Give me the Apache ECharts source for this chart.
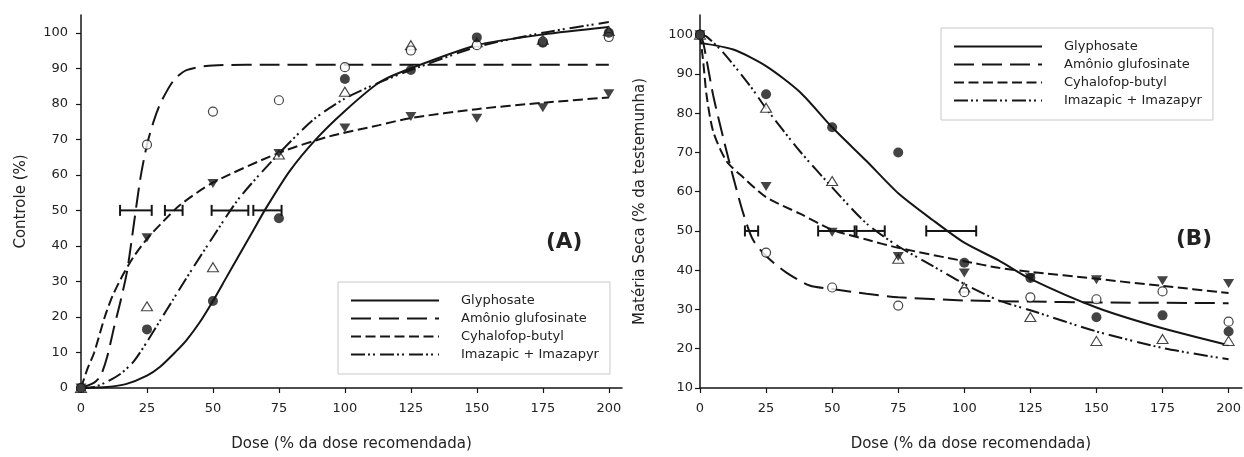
<!DOCTYPE html>
<html>
<head>
<meta charset="utf-8">
<script src="https://cdn.jsdelivr.net/npm/echarts@6/dist/echarts.min.js"></script>
<style>
  html, body { margin: 0; padding: 0; background: #fff; }
  #chart { width: 1244px; height: 457px; }
</style>
</head>
<body>
<div id="chart"></div>
<script>
// treatment doses (% of recommended dose)
const doseTrt = [0, 25, 50, 75, 100, 125, 150, 175, 200];
const herbicides = ['Glyphosate', 'Amônio glufosinate', 'Cyhalofop-butyl', 'Imazapic + Imazapyr'];

// (A) Controle (%) - observed
const glyA = [0, 16.5, 24.5, 47.8, 87, 89.5, 98.7, 97.2, 100];
const amoA = [0, 68.5, 77.8, 81, 90.3, 95, 96.5, 97.5, 98.8];
const cyhA = [0, 42.3, 57.6, 66, 73.2, 76.4, 75.9, 78.9, 82.8];
const imaA = [0, 23, 34, 65.7, 83.4, 96.5, 97.3, 98, 100.5];

// (A) fitted curves
const glyFitDoseA = [0, 10, 17, 25, 30, 36, 40, 45, 50, 55, 60, 65, 70, 79, 89, 100, 113, 125, 150, 175, 200];
const glyFitA     = [0, 0.3, 1.1, 3.5, 6, 10.3, 13.5, 18.5, 24.5, 31, 37.5, 44, 50.5, 61, 70, 78, 86, 90, 96.5, 99.5, 101.6];
const amoFitDoseA = [0, 5, 7.5, 10, 12.5, 15, 17.5, 20, 22.5, 25, 27.5, 30, 35, 40, 50, 75, 100, 150, 200];
const amoFitA     = [0, 1.5, 3.5, 9, 17, 24.5, 33, 46, 59, 68.5, 75, 80, 86.5, 89.5, 90.8, 91, 91, 91, 91];
const cyhFitDoseA = [0, 2.5, 5, 9, 12, 16, 20, 25, 30, 37.5, 50, 75, 94, 113, 125, 150, 175, 200];
const cyhFitA     = [0, 5.5, 10, 20, 26, 32, 37, 42, 46, 51.5, 57.8, 66.2, 70.8, 74, 76, 78.5, 80.3, 81.8];
const imaFitDoseA = [0, 5, 10, 15, 20, 25, 30, 35, 40, 50, 60, 75, 88, 100, 113, 125, 150, 175, 200];
const imaFitA     = [0, 0.3, 1.8, 4, 7.5, 13, 19, 25, 31, 42.5, 53.5, 66, 75.5, 81.5, 86, 89.5, 96, 100, 103];

// (A) ED50 error bars at y = 50
const errLowA  = [65.3, 14.8, 31.8, 49.5];
const errHighA = [76, 26.8, 38.5, 63.4];

// (B) Matéria seca (% da testemunha) - observed
const glyB = [100, 84.8, 76.4, 70, 41.9, 38, 28, 28.5, 24.4];
const amoB = [100, 44.5, 35.6, 31, 34.4, 33.1, 32.6, 34.6, 26.9];
const cyhB = [100, 61.3, 49.7, 43.5, 39.3, 38.1, 37.6, 37.3, 36.6];
const imaB = [100, 81.4, 62.7, 42.9, 35.6, 28.1, 22, 22.5, 22];

// (B) fitted curves
const glyFitDoseB = [0, 12.6, 25, 37.8, 50, 63, 75, 88, 100, 113, 125, 150, 175, 200];
const glyFitB     = [97.9, 96.2, 92, 85.4, 76.4, 67.8, 59.6, 52.8, 47, 42.5, 37.8, 30.5, 25.2, 20.9];
const amoFitDoseB = [0, 1.25, 5, 8.8, 12.6, 16.4, 20, 25, 32.7, 41.5, 50, 63, 75, 100, 125, 150, 200];
const amoFitB     = [100, 97.9, 84.5, 73.7, 63.6, 54.4, 47.8, 43.6, 39.4, 36.1, 35.2, 34, 33.1, 32.3, 32, 31.8, 31.6];
const cyhFitDoseB = [0, 1.25, 2.5, 5, 10, 16.4, 25, 37.8, 50, 63, 75, 100, 113, 125, 150, 175, 200];
const cyhFitB     = [100, 92.9, 84.5, 75.3, 67.8, 63.6, 58.6, 54.4, 50.3, 47.8, 45.7, 42.3, 40.6, 39.6, 37.8, 36, 34.2];
const imaFitDoseB = [0, 2.5, 8.8, 18.9, 25, 37.8, 50, 63, 75, 88, 100, 113, 125, 150, 175, 200];
const imaFitB     = [100, 99.5, 95.4, 87, 81.2, 70.3, 61.1, 51.9, 46.1, 41.1, 36.5, 32.3, 29.8, 24.4, 20.2, 17.3];

// (B) ED50 error bars at y = 50
const errLowB  = [85.6, 17, 44.7, 59.2];
const errHighB = [104.5, 22, 58.5, 69.9];

const xTicks = [0, 25, 50, 75, 100, 125, 150, 175, 200];
const yTicksA = [0, 10, 20, 30, 40, 50, 60, 70, 80, 90, 100];
const yTicksB = [10, 20, 30, 40, 50, 60, 70, 80, 90, 100];

const INK = '#151515';
const FONT = 'DejaVu Sans';
const dashes = ['solid', [20, 8], [10, 4.5], [14, 3, 2, 3, 2, 5]];

const chart = echarts.init(document.getElementById('chart'), null, { renderer: 'canvas' });

function fitSeries(name, dose, vals, idx, dash) {
  return {
    name: name, type: 'line', xAxisIndex: idx, yAxisIndex: idx,
    data: dose.map((d, i) => [d, vals[i]]),
    symbol: 'none', smooth: 0.25,
    lineStyle: { color: INK, width: 2, type: dash },
    itemStyle: { color: INK },
    z: 2, silent: true
  };
}

function pointSeries(kind, vals, idx) {
  const s = {
    name: 'pts' + idx + kind, type: 'scatter', xAxisIndex: idx, yAxisIndex: idx,
    data: doseTrt.map((d, i) => [d, vals[i]]),
    symbolSize: 10, z: 4, silent: true
  };
  if (kind === 'gly') { s.symbol = 'circle'; s.itemStyle = { color: INK }; }
  if (kind === 'amo') { s.symbol = 'circle'; s.symbolSize = 9; s.itemStyle = { color: '#fff', borderColor: INK, borderWidth: 1.2 }; }
  if (kind === 'cyh') { s.symbol = 'triangle'; s.symbolRotate = 180; s.symbolSize = [11, 9]; s.itemStyle = { color: INK }; }
  if (kind === 'ima') { s.symbol = 'triangle'; s.symbolSize = [11, 9]; s.itemStyle = { color: '#fff', borderColor: INK, borderWidth: 1.1 }; }
  return s;
}

function errSeries(lows, highs, idx) {
  return {
    type: 'custom', xAxisIndex: idx, yAxisIndex: idx, z: 3, silent: true,
    data: lows.map((l, i) => [l, highs[i], 50]),
    renderItem: function (params, api) {
      const a = api.coord([api.value(0), api.value(2)]);
      const b = api.coord([api.value(1), api.value(2)]);
      const st = { stroke: INK, lineWidth: 2 };
      return {
        type: 'group',
        children: [
          { type: 'line', shape: { x1: a[0], y1: a[1], x2: b[0], y2: b[1] }, style: st },
          { type: 'line', shape: { x1: a[0], y1: a[1] - 5.5, x2: a[0], y2: a[1] + 5.5 }, style: st },
          { type: 'line', shape: { x1: b[0], y1: b[1] - 5.5, x2: b[0], y2: b[1] + 5.5 }, style: st }
        ]
      };
    }
  };
}

function xAxis(idx) {
  return {
    type: 'value', gridIndex: idx, min: 0, max: 205, interval: 25,
    name: 'Dose (% da dose recomendada)', nameLocation: 'middle', nameGap: 49,
    nameTextStyle: { color: '#222', fontSize: 15, fontFamily: FONT },
    axisLine: { lineStyle: { color: INK, width: 1.5 } },
    axisTick: { length: 5, lineStyle: { color: INK, width: 1.2 }, customValues: xTicks },
    axisLabel: { color: '#222', fontSize: 13, fontFamily: FONT, margin: 14, customValues: xTicks },
    splitLine: { show: false }
  };
}

function yAxis(idx, min, ticks, name, margin) {
  return {
    type: 'value', gridIndex: idx, min: min, max: 105, interval: 10,
    name: name, nameLocation: 'middle', nameGap: 52,
    nameTextStyle: { color: '#222', fontSize: 15, fontFamily: FONT },
    axisLine: { show: true, lineStyle: { color: INK, width: 1.5 } },
    axisTick: { show: true, length: 5, lineStyle: { color: INK, width: 1.2 }, customValues: ticks },
    axisLabel: { color: '#222', fontSize: 13, fontFamily: FONT, margin: margin, customValues: ticks },
    splitLine: { show: false }
  };
}

function legend(left, top) {
  return {
    data: herbicides, orient: 'vertical', left: left, top: top,
    itemWidth: 88, itemHeight: 14, itemGap: 5,
    padding: [12, 11, 13, 12],
    borderColor: '#c8c8c8', borderWidth: 1, backgroundColor: '#fff',
    selectedMode: false,
    itemStyle: { opacity: 0 },
    textStyle: { color: '#222', fontSize: 13, fontFamily: FONT, padding: [0, 0, 0, 17] }
  };
}

const series = [];
[[glyFitDoseA, glyFitA], [amoFitDoseA, amoFitA], [cyhFitDoseA, cyhFitA], [imaFitDoseA, imaFitA]]
  .forEach((c, i) => series.push(fitSeries(herbicides[i], c[0], c[1], 0, dashes[i])));
[[glyFitDoseB, glyFitB], [amoFitDoseB, amoFitB], [cyhFitDoseB, cyhFitB], [imaFitDoseB, imaFitB]]
  .forEach((c, i) => series.push(fitSeries(herbicides[i], c[0], c[1], 1, dashes[i])));
series.push(errSeries(errLowA, errHighA, 0));
series.push(errSeries(errLowB, errHighB, 1));
series.push(pointSeries('ima', imaA, 0), pointSeries('cyh', cyhA, 0), pointSeries('amo', amoA, 0), pointSeries('gly', glyA, 0));
series.push(pointSeries('ima', imaB, 1), pointSeries('cyh', cyhB, 1), pointSeries('amo', amoB, 1), pointSeries('gly', glyB, 1));

chart.setOption({
  animation: false,
  backgroundColor: '#fff',
  title: [
    { text: '(A)', left: 546, top: 231, padding: 0, textStyle: { fontSize: 21.5, fontWeight: 'bold', color: '#222', fontFamily: FONT } },
    { text: '(B)', left: 1176, top: 228, padding: 0, textStyle: { fontSize: 21.5, fontWeight: 'bold', color: '#222', fontFamily: FONT } }
  ],
  grid: [
    { left: 81, top: 15, width: 541, bottom: 63 },
    { left: 700, top: 15, width: 543, bottom: 63 }
  ],
  xAxis: [xAxis(0), xAxis(1)],
  yAxis: [
    yAxis(0, 0, yTicksA, 'Controle (%)', 13),
    yAxis(1, 10, yTicksB, 'Matéria Seca (% da testemunha)', 7)
  ],
  legend: [legend(338, 282), legend(941, 28)],
  series: series
});
</script>
</body>
</html>
